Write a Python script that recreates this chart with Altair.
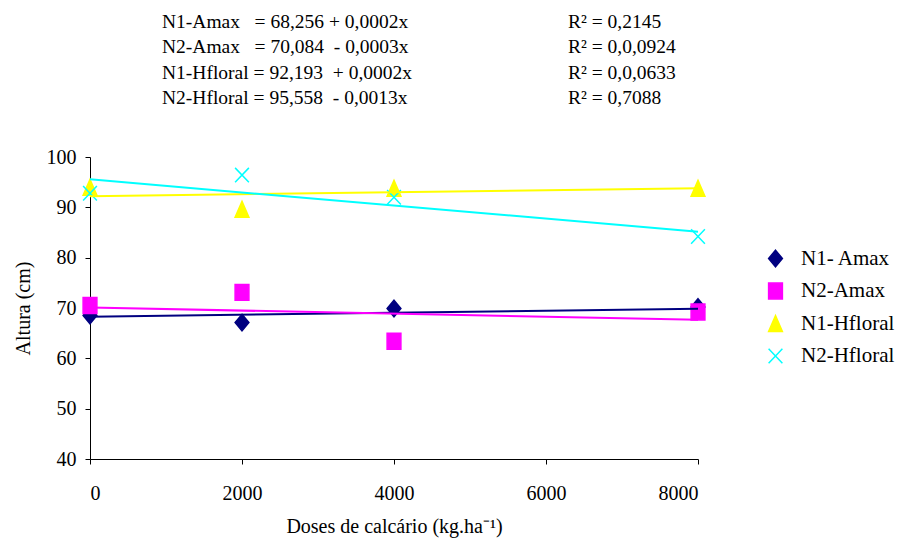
import altair as alt
import pandas as pd

# Series names and the lime doses (kg/ha)
series = ["N1- Amax", "N2-Amax", "N1-Hfloral", "N2-Hfloral"]
doses = [0, 2000, 4000, 8000]

# Plant height (cm) per series at each dose
n1_amax = [68.5, 67.1, 69.9, 70.2]
n2_amax = [70.5, 73.1, 63.4, 69.2]
n1_hfloral = [94.0, 89.6, 93.8, 93.8]
n2_hfloral = [92.8, 96.4, 92.0, 84.2]

# Fitted linear trends: height = intercept + slope * dose
intercepts = [68.256, 70.084, 92.193, 95.558]
slopes = [0.0002, -0.0003, 0.0002, -0.0013]

# Equation and R² labels shown above the plot
equations = [
    "N1-Amax\u00a0\u00a0\u00a0= 68,256 + 0,0002x",
    "N2-Amax\u00a0\u00a0\u00a0= 70,084\u00a0\u00a0- 0,0003x",
    "N1-Hfloral = 92,193\u00a0\u00a0+ 0,0002x",
    "N2-Hfloral = 95,558\u00a0\u00a0- 0,0013x",
]
r2_labels = ["R² = 0,2145", "R² = 0,0,0924", "R² = 0,0,0633", "R² = 0,7088"]

colors = ["#000080", "#FF00FF", "#FFFF00", "#00FFFF"]
shapes = [
    "M0,-1.2L1,0L0,1.2L-1,0Z",               # diamond
    "M-1,-1.15L1,-1.15L1,1.15L-1,1.15Z",     # square
    "M0,-1.15L1,1.15L-1,1.15Z",              # triangle
    "M-1,-1.05L1,1.05M-1,1.05L1,-1.05",      # x
]

FONT = "Liberation Serif"
W, H = 608, 302
LEFT, TOP = 90, 157

rows = []
for name, vals in zip(series, [n1_amax, n2_amax, n1_hfloral, n2_hfloral]):
    for d, v in zip(doses, vals):
        rows.append({"serie": name, "dose": d, "altura": v})
points_df = pd.DataFrame(rows)

x_enc = alt.X(
    "dose:Q",
    scale=alt.Scale(domain=[0, 8000], nice=False),
    axis=alt.Axis(
        values=[0, 2000, 4000, 6000, 8000],
        format="d",
        title="Doses de calcário (kg.ha⁻¹)",
        titlePadding=13,
        labelPadding=19,
    ),
)
y_enc = alt.Y(
    "altura:Q",
    scale=alt.Scale(domain=[40, 100], nice=False),
    axis=alt.Axis(
        values=[40, 50, 60, 70, 80, 90, 100],
        title="Altura (cm)",
        titlePadding=13,
        labelPadding=9,
    ),
)

legend = alt.Legend(
    title=None,
    orient="none",
    legendX=675,
    legendY=91,
    padding=0,
    symbolSize=190,
    symbolStrokeWidth=1.5,
    labelOffset=15,
    rowPadding=9.5,
    labelFontSize=21,
    labelFont=FONT,
    labelColor="black",
    labelLimit=200,
)

points = alt.Chart(points_df).mark_point(
    filled=True, opacity=1, size=190, strokeWidth=1.5
).encode(
    x=x_enc,
    y=y_enc,
    fill=alt.Fill("serie:N", scale=alt.Scale(domain=series, range=colors), legend=legend),
    stroke=alt.Stroke("serie:N", scale=alt.Scale(domain=series, range=colors), legend=legend),
    shape=alt.Shape("serie:N", scale=alt.Scale(domain=series, range=shapes), legend=legend),
    order=alt.Order("idx:Q"),
).transform_calculate(
    idx="indexof(['" + "','".join(series) + "'], datum.serie) * 10000 + datum.dose"
)

layers = [points]

# Trend lines drawn from the fitted coefficients across the full dose range
for name, a, b, c in zip(series, intercepts, slopes, colors):
    tdf = pd.DataFrame({"dose": [0, 8000], "altura": [a, a + b * 8000]})
    layers.append(
        alt.Chart(tdf).mark_line(color=c, strokeWidth=2).encode(x="dose:Q", y="altura:Q")
    )

# Equations block above the plot
for i, (eq, r2) in enumerate(zip(equations, r2_labels)):
    yy = -135.5 + i * 25.5
    layers.append(
        alt.Chart(pd.DataFrame({"t": [eq]})).mark_text(
            align="left", baseline="middle", font=FONT, fontSize=19.5, color="black"
        ).encode(text="t:N", x=alt.value(72), y=alt.value(yy))
    )
    layers.append(
        alt.Chart(pd.DataFrame({"t": [r2]})).mark_text(
            align="left", baseline="middle", font=FONT, fontSize=19.5, color="black"
        ).encode(text="t:N", x=alt.value(478), y=alt.value(yy))
    )

chart = alt.layer(*layers).properties(
    width=W,
    height=H,
    autosize=alt.AutoSizeParams(type="none"),
    padding={"left": LEFT, "top": TOP, "right": 898 - LEFT - W, "bottom": 543 - TOP - H},
).configure(
    background="white"
).configure_view(
    stroke=None
).configure_axis(
    grid=False,
    domainColor="black",
    tickColor="black",
    tickSize=5,
    labelFont=FONT,
    labelFontSize=20,
    labelColor="black",
    titleFont=FONT,
    titleFontSize=20,
    titleFontWeight="normal",
    titleColor="black",
)

chart.save("out.html", embed_options={"renderer": "svg", "actions": False})
